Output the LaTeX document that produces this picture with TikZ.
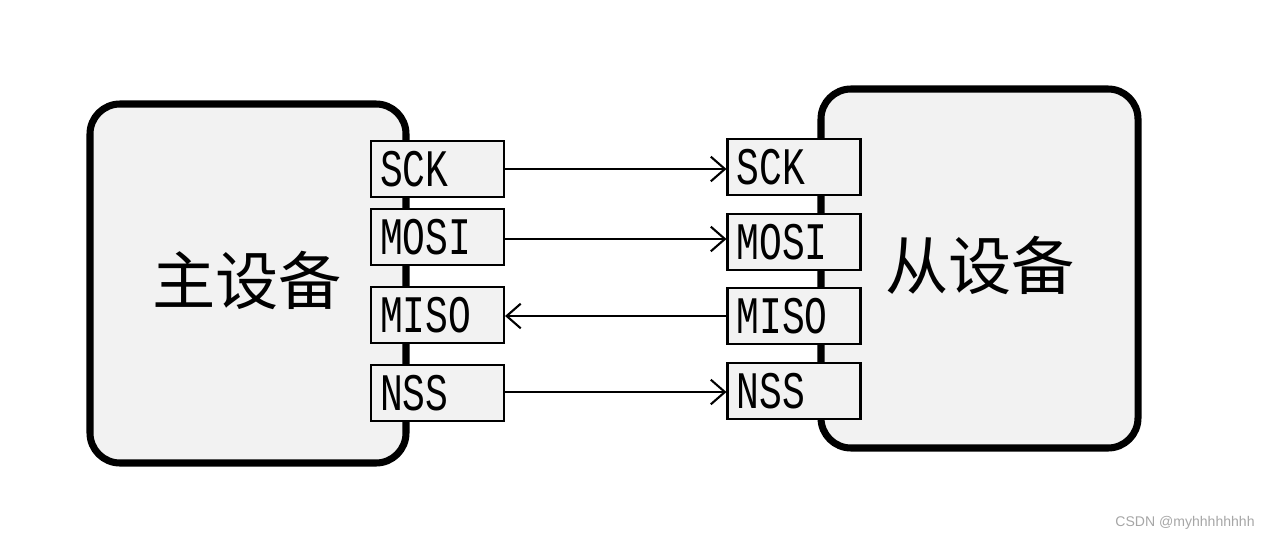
\documentclass[tikz,border=0pt]{standalone}
\usepackage{fontspec}
\setmainfont{Liberation Serif}
\newfontfamily\pinfont{Liberation Mono}
\newfontfamily\cjk{Noto Sans CJK SC}
\usepackage{graphicx}
\usetikzlibrary{arrows.meta,positioning}
\definecolor{devgray}{HTML}{F2F2F2}
\newcommand{\pintext}[1]{\scalebox{0.72}[1]{#1}}
\tikzset{
    devsty/.style={draw,line width=4pt,fill=devgray,rounded corners=0.6cm},
    pinsty/.style={draw,fill=devgray,line width=1.2pt,minimum width=2.66cm,minimum height=1.12cm,
                   text width=2.3cm,align=left,inner sep=0.12cm,font=\pinfont\fontsize{30}{30}\selectfont},
    namesty/.style={font=\cjk\fontsize{36}{36}\selectfont},
    sigsty/.style={line width=1.2pt,-{Straight Barb[length=8pt,width=14pt]}},
}
\begin{document}
\begin{tikzpicture}[x=0.02cm,y=-0.02cm]
  \useasboundingbox (0,0) rectangle (1274,541);
  % devices
  \draw[devsty] (90,104) rectangle (406,463);
  \draw[devsty] (821,89) rectangle (1138,448);
  \node[namesty] (master) at (247,280) {主设备};
  \node[namesty] (slave) at (980,265) {从设备};
  % master pins
  \node[pinsty] (mSCK)  at (437.5,169) {\pintext{SCK}};
  \node[pinsty] (mMOSI) at (437.5,237) {\pintext{MOSI}};
  \node[pinsty] (mMISO) at (437.5,315) {\pintext{MISO}};
  \node[pinsty] (mNSS)  at (437.5,393) {\pintext{NSS}};
  % slave pins
  \node[pinsty] (sSCK)  at (794,167) {\pintext{SCK}};
  \node[pinsty] (sMOSI) at (794,242) {\pintext{MOSI}};
  \node[pinsty] (sMISO) at (794,316) {\pintext{MISO}};
  \node[pinsty] (sNSS)  at (794,391) {\pintext{NSS}};
  % signals
  \draw[sigsty] (mSCK.east) -- (sSCK.west |- mSCK.east);
  \draw[sigsty] (mMOSI.east |- 0,239) -- (sMOSI.west |- 0,239);
  \draw[sigsty] (sMISO.west) -- (mMISO.east |- sMISO.west);
  \draw[sigsty] (mNSS.east |- 0,392) -- (sNSS.west |- 0,392);
  \node[text=gray!70,font=\fontspec{Liberation Sans}\fontsize{8}{8}\selectfont] (mark) at (1185,523) {CSDN @myhhhhhhhh};
\end{tikzpicture}
\end{document}
